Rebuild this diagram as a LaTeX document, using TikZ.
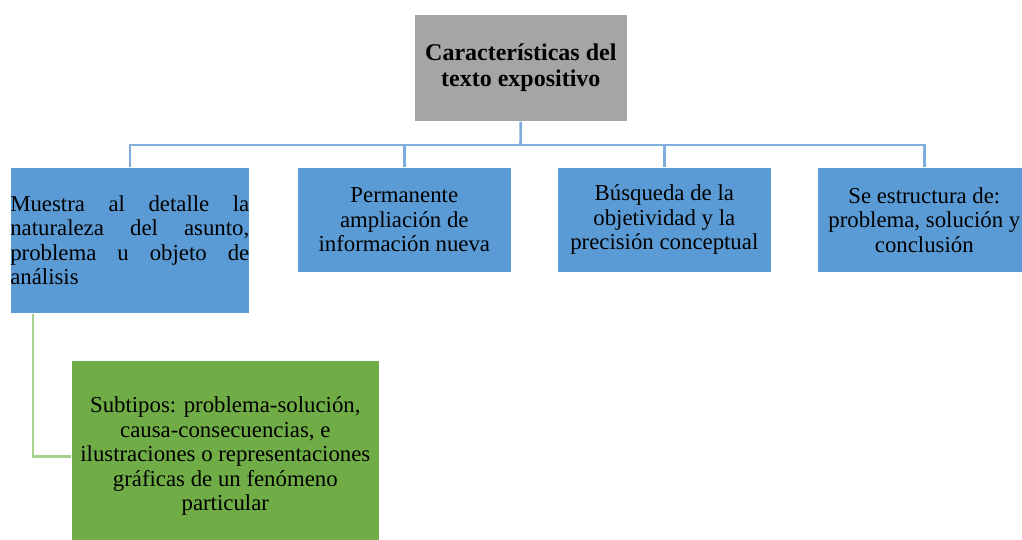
\documentclass[tikz,border=0pt]{standalone}
\usepackage{fontspec}
\setmainfont{Liberation Serif}
\usetikzlibrary{calc}
\definecolor{boxblue}{HTML}{5B9BD5}
\definecolor{boxgray}{HTML}{A5A5A5}
\definecolor{boxgreen}{HTML}{70AD47}
\definecolor{lineblue}{HTML}{7FADDD}
\definecolor{linegreen}{HTML}{A9D18E}
\tikzset{
  box/.style={rectangle, draw=white, line width=0.6pt, anchor=north west, inner sep=0pt, font=\fontsize{22.8}{24.5}\selectfont, text=black},
  bluebox/.style={box, fill=boxblue, minimum width=214pt, minimum height=105pt, align=center},
  bline/.style={draw=lineblue, line width=2.6pt},
  gline/.style={draw=linegreen, line width=2.6pt},
}
\begin{document}
\begin{tikzpicture}[x=1pt,y=-1pt]
\useasboundingbox (0,0) rectangle (1022,539);
\node[box, fill=boxgray, minimum width=213pt, minimum height=107pt, align=center, font=\fontsize{24}{26}\selectfont\bfseries] (top) at (414,14) {Características del\\texto expositivo};
\node[box, fill=boxblue, minimum width=239pt, minimum height=146pt, text width=239pt, align=justify] (b1) at (10,167) {\hyphenpenalty=10000 Muestra al detalle la\linebreak naturaleza del asunto,\linebreak problema u objeto de\linebreak análisis};
\node[bluebox] (b2) at (297,167) {Permanente\\ampliación de\\información nueva};
\node[bluebox] (b3) at (557,167) {Búsqueda de la\\objetividad y la\\precisión conceptual};
\node[bluebox] (b4) at (817,167) {Se estructura de:\\problema, solución y\\conclusión};
\node[box, fill=boxgreen, minimum width=308pt, minimum height=192pt, align=center] (g) at (71,360) {Subtipos: problema-solución,\\causa-consecuencias, e\\ilustraciones o representaciones\\gráficas de un fenómeno\\particular};
\coordinate (hub) at (520.5,145);
\draw[bline] (top.south) -- (hub);
\draw[bline] (hub) -| (b1.north);
\draw[bline] (hub) -| (b2.north);
\draw[bline] (hub) -| (b3.north);
\draw[bline] (hub) -| (b4.north);
\coordinate (gs) at ($(b1.south west)+(23,0)$);
\draw[gline] (gs) |- (g.west);
\end{tikzpicture}
\end{document}
